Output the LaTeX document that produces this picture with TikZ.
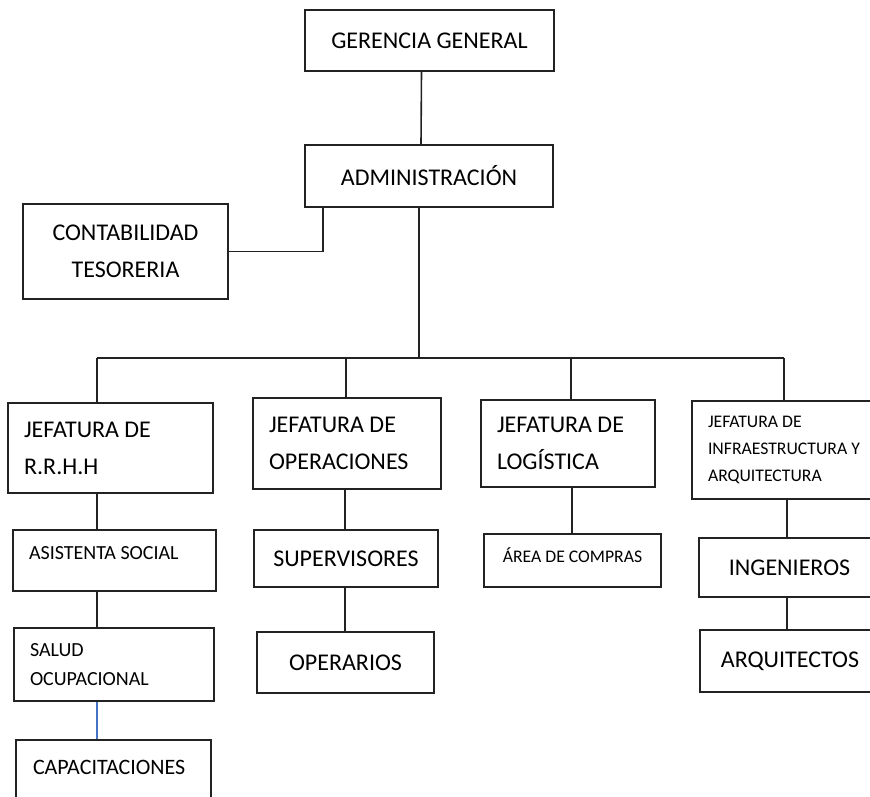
\documentclass[tikz,border=0pt]{standalone}
\usepackage{fontspec}
\setmainfont{Carlito}
\usepackage{xcolor}
\usepackage{tikz}
\usetikzlibrary{positioning}
\usetikzlibrary{calc}

\definecolor{linea}{HTML}{222222}
\definecolor{azul}{HTML}{4472C4}

\begin{document}
\begin{tikzpicture}[x=1pt, y=-1pt, line width=1.6pt, draw=linea, caja/.style={draw=linea, rectangle, line width=2pt, inner sep=0pt, align=center, font=\fontsize{24}{37}\selectfont}, medio/.style={font=\fontsize{20}{29}\selectfont}, chico/.style={font=\fontsize{17.7}{27}\selectfont}, izq/.style={align=flush left, text width=#1}]
\clip (0,0) rectangle (870,796);
\fill[white] (0,0) rectangle (870,796);
% direccion
\node[caja, minimum width=249pt, minimum height=61pt] (ger) at (429.5,40.5) {GERENCIA GENERAL};
\node[caja, minimum width=248pt, minimum height=62pt] (adm) at (429,176) {ADMINISTRACIÓN};
\node[caja, minimum width=205pt, minimum height=95pt] (cont) at (125.5,251.5) {CONTABILIDAD\\TESORERIA};
% jefaturas
\node[caja, izq=173pt, minimum width=205pt, minimum height=90pt] (rrhh) at (110.5,448) {JEFATURA DE\\R.R.H.H};
\node[caja, izq=156pt, minimum width=188pt, minimum height=91pt] (oper) at (347,443.5) {JEFATURA DE\\OPERACIONES};
\node[caja, izq=142pt, minimum width=174pt, minimum height=87pt] (logi) at (568,443.5) {JEFATURA DE\\LOGÍSTICA};
\node[caja, chico, izq=156pt, minimum width=188pt, minimum height=98pt] (infra) at (786,450) {JEFATURA DE\\INFRAESTRUCTURA~Y\\ARQUITECTURA};
% dependencias
\node[caja, medio, izq=171pt, text depth=15pt, minimum width=203pt, minimum height=61pt] (asis) at (114.5,560.5) {ASISTENTA SOCIAL};
\node[caja, medio, izq=168pt, minimum width=200pt, minimum height=73pt] (salud) at (114,664.5) {SALUD\\OCUPACIONAL};
\node[caja, izq=161pt, font=\fontsize{22}{30}\selectfont, text depth=21pt, minimum width=195pt, minimum height=75pt] (capa) at (113.5,777.5) {CAPACITACIONES};
\node[caja, minimum width=184pt, minimum height=57pt] (sup) at (346,558.5) {SUPERVISORES};
\node[caja, minimum width=177pt, minimum height=61pt] (opera) at (345.5,662.5) {OPERARIOS};
\node[caja, chico, text depth=11pt, minimum width=177pt, minimum height=53pt] (area) at (572.5,560.5) {ÁREA DE COMPRAS};
\node[caja, minimum width=181pt, minimum height=59pt] (ing) at (789.5,567.5) {INGENIEROS};
\node[caja, minimum width=180pt, minimum height=62pt] (arq) at (790,661) {ARQUITECTOS};
% columnas de las lineas
\coordinate (b0) at (419,358);
\coordinate (b1) at (97,358);
\coordinate (b2) at (346,358);
\coordinate (b3) at (571,358);
\coordinate (b4) at (784,358);
\coordinate (k2) at (345,0);
\coordinate (k3) at (572,0);
\coordinate (k4) at (787,0);
\draw ([xshift=-8pt]ger.south) -- ([xshift=-8pt]adm.north);
\draw ([xshift=-106pt]adm.south) |- (cont.east);
\draw ([xshift=-10pt]adm.south) -- (b0);
\draw (b1) -- (b4);
\draw (b1) -- (b1 |- rrhh.north)
(b2) -- (b2 |- oper.north)
(b3) -- (b3 |- logi.north)
(b4) -- (b4 |- infra.north);
\draw (b1 |- rrhh.south) -- (b1 |- asis.north)
(b1 |- asis.south) -- (b1 |- salud.north);
\draw[azul, line width=1.2pt] (b1 |- salud.south) -- (b1 |- capa.north);
\draw (k2 |- oper.south) -- (k2 |- sup.north)
(k2 |- sup.south) -- (k2 |- opera.north);
\draw (k3 |- logi.south) -- (k3 |- area.north);
\draw (k4 |- infra.south) -- (k4 |- ing.north)
(k4 |- ing.south) -- (k4 |- arq.north);
\end{tikzpicture}
\end{document}
